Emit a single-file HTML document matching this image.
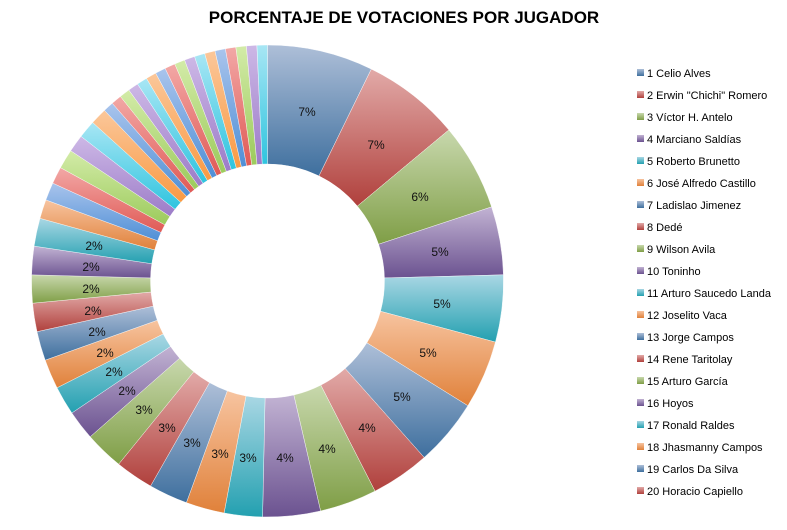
<!DOCTYPE html>
<html><head><meta charset="utf-8"><style>
html,body{margin:0;padding:0;background:#fff;}
svg{display:block;font-family:"Liberation Sans",sans-serif;}
</style></head><body>
<svg id="c" width="787" height="530" viewBox="0 0 787 530" xmlns="http://www.w3.org/2000/svg">
<defs id="d"></defs>
<g id="slices"></g>
<text x="404" y="23" text-anchor="middle" font-size="17" font-weight="bold" fill="#000">PORCENTAJE DE VOTACIONES POR JUGADOR</text>
<g font-size="12" text-anchor="middle" dominant-baseline="central" fill="#111">
<text x="307" y="112">7%</text><text x="376" y="145">7%</text><text x="420" y="197">6%</text>
<text x="440" y="252">5%</text><text x="442" y="304">5%</text><text x="428" y="353">5%</text>
<text x="402" y="397">5%</text><text x="367" y="428">4%</text><text x="327" y="449">4%</text>
<text x="285" y="458">4%</text><text x="248" y="458">3%</text><text x="220" y="454">3%</text>
<text x="192" y="443">3%</text><text x="167" y="428">3%</text><text x="144" y="410">3%</text>
<text x="127" y="391">2%</text><text x="114" y="372">2%</text><text x="105" y="353">2%</text>
<text x="97" y="332">2%</text><text x="93" y="311">2%</text><text x="91" y="289">2%</text>
<text x="91" y="267">2%</text><text x="94" y="246">2%</text>
</g>
<g id="leg" font-size="11" fill="#000">
<text x="647" y="77">1 Celio Alves</text>
<text x="647" y="99">2 Erwin "Chichi" Romero</text>
<text x="647" y="121">3 Víctor H. Antelo</text>
<text x="647" y="143">4 Marciano Saldías</text>
<text x="647" y="165">5 Roberto Brunetto</text>
<text x="647" y="187">6 José Alfredo Castillo</text>
<text x="647" y="209">7 Ladislao Jimenez</text>
<text x="647" y="231">8 Dedé</text>
<text x="647" y="253">9 Wilson Avila</text>
<text x="647" y="275">10 Toninho</text>
<text x="647" y="297">11 Arturo Saucedo Landa</text>
<text x="647" y="319">12 Joselito Vaca</text>
<text x="647" y="341">13 Jorge Campos</text>
<text x="647" y="363">14 Rene Taritolay</text>
<text x="647" y="385">15 Arturo García</text>
<text x="647" y="407">16 Hoyos</text>
<text x="647" y="429">17 Ronald Raldes</text>
<text x="647" y="451">18 Jhasmanny Campos</text>
<text x="647" y="473">19 Carlos Da Silva</text>
<text x="647" y="495">20 Horacio Capiello</text>
</g>
<g id="legsq"></g>
</svg>
<script>
(function(){
var ns="http://www.w3.org/2000/svg";
var cols=[["#aebfd8","#3e6f9e"],["#e2aaa8","#b0403c"],["#c8d8ad","#7f9e46"],["#c2b3d3","#6b5290"],["#a9d7e4","#23a0b0"],["#f7c4a0","#e0813a"]];
var cols2=[["#a9c4ec","#4f8fd6"],["#f2a8a6","#e05a56"],["#d3eba8","#9ccb5c"],["#cdb8e6","#9c7cc8"],["#a8e6f4","#2fc4df"],["#fbc79a","#f99a44"]];
var b=[0,26.1,50.2,71.7,88.5,105,121.9,138.4,152.9,167,181.2,190.6,200.1,209.7,219.1,228.7,236,243.1,250.4,257.6,264.6,271.5,278.5,285.4,290.1,294.5,298.7,303.5,307.8,312.2,316.3];
var n=17,st=(360-316.3)/n;for(var i=1;i<=n;i++)b.push(316.3+st*i);
var cx=267.5,cy=281,R=236,r=117,defs=document.getElementById('d'),g=document.getElementById('slices');
function pt(a,rr){a=a*Math.PI/180;return [cx+rr*Math.sin(a),cy-rr*Math.cos(a)];}
for(var k=0;k<b.length-1;k++){
 var c=(k<24?cols:cols2)[k%6];
 var lg=document.createElementNS(ns,'linearGradient');lg.setAttribute('id','g'+k);lg.setAttribute('x1','0');lg.setAttribute('y1','0');lg.setAttribute('x2','0');lg.setAttribute('y2','1');
 lg.innerHTML='<stop offset="0" stop-color="'+c[0]+'"/><stop offset="1" stop-color="'+c[1]+'"/>';defs.appendChild(lg);
 var a0=b[k],a1=b[k+1],p0=pt(a0,R),p1=pt(a1,R),q1=pt(a1,r),q0=pt(a0,r),lf=(a1-a0)>180?1:0;
 var p=document.createElementNS(ns,'path');
 p.setAttribute('d','M'+p0+' A'+R+','+R+' 0 '+lf+' 1 '+p1+' L'+q1+' A'+r+','+r+' 0 '+lf+' 0 '+q0+'Z');
 p.setAttribute('fill','url(#g'+k+')');p.setAttribute('stroke','#fff');p.setAttribute('stroke-width','0.4');g.appendChild(p);
}
var ls=document.getElementById('legsq');
for(var j=0;j<20;j++){var c2=cols[j%6];var s=document.createElementNS(ns,'rect');s.setAttribute('x',637);s.setAttribute('y',69+22*j);s.setAttribute('width',7);s.setAttribute('height',7);s.setAttribute('fill','url(#g'+(j%6)+')');ls.appendChild(s);}
})();
</script>
</body></html>
